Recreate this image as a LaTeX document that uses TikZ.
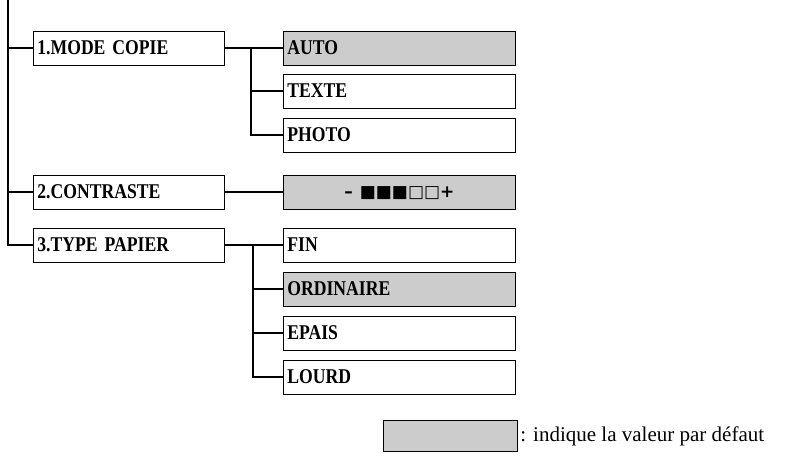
\documentclass[tikz,border=0pt]{standalone}
\usepackage{fontspec}
\setmainfont{Liberation Serif}
\newfontfamily\boxfont[FakeStretch=0.84]{Liberation Serif}
\newfontfamily\symfont{DejaVu Sans}
\usetikzlibrary{positioning}
\definecolor{defgray}{HTML}{CCCCCC}

\begin{document}
\begin{tikzpicture}[x=1pt, y=-1pt, line width=1.2pt,
	menu/.style={draw, line width=0.8pt, minimum height=34pt, anchor=west, inner sep=3pt, font=\boxfont\bfseries\fontsize{21}{21}\selectfont, text depth=0pt},
	top/.style={menu, minimum width=191pt, text width=183pt, align=left},
	opt/.style={menu, minimum width=232pt, text width=224pt, align=left},
	dflt/.style={fill=defgray}]
	\useasboundingbox (0,0) rectangle (787,456);
	% main branch
	\coordinate (root) at (8,0);
	\node[top] (mode) at (33,48) {1.MODE COPIE};
	\node[top] (contr) at (33,192) {2.CONTRASTE};
	\node[top] (type) at (33,245) {3.TYPE PAPIER};
	\draw (root) -- (8,245) -- (type.west);
	\draw (8,48) -- (mode.west);
	\draw (8,192) -- (contr.west);
	% copy mode
	\node[opt, dflt] (auto) at (283,48) {AUTO};
	\node[opt] (texte) at (283,91) {TEXTE};
	\node[opt] (photo) at (283,135) {PHOTO};
	\draw (mode.east) -- (auto.west);
	\draw (251,48) |- (photo.west);
	\draw (251,91) -- (texte.west);
	% contrast
	\node[opt, dflt, align=center] (level) at (283,192) {\symfont\fontsize{17}{17}\selectfont – ■■■□□+};
	\draw (contr.east) -- (level.west);
	% paper type
	\node[opt] (fin) at (283,245) {FIN};
	\node[opt] (ordi) at (283,289) [dflt] {ORDINAIRE};
	\node[opt] (epais) at (283,333) {EPAIS};
	\node[opt] (lourd) at (283,377) {LOURD};
	\draw (type.east) -- (fin.west);
	\draw (253,245) |- (lourd.west);
	\draw (253,289) -- (ordi.west);
	\draw (253,333) -- (epais.west);
	% legend
	\node[draw, fill=defgray, line width=0.8pt, minimum width=134pt, minimum height=31pt, anchor=west] (key) at (383,436) {};
	\node[anchor=west, inner sep=2pt, font=\fontsize{21}{21}\selectfont] (keytxt) at (key.east) {: indique la valeur par défaut};
\end{tikzpicture}
\end{document}
